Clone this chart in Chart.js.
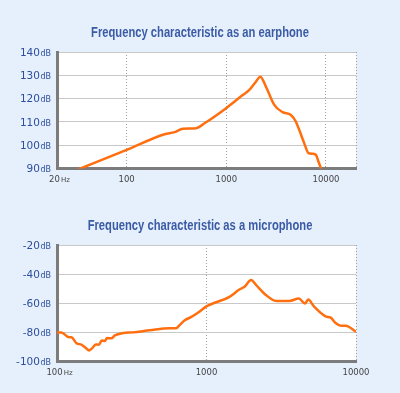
<!DOCTYPE html>
<html>
<head>
<meta charset="utf-8">
<title>Frequency characteristic</title>
<script src="https://cdn.jsdelivr.net/npm/chart.js@4.4.0/dist/chart.umd.min.js"></script>
<style>
  html, body { margin: 0; padding: 0; background: #e6f0fc; }
  #wrap { position: relative; width: 400px; height: 393px; overflow: hidden; }
  .box { position: absolute; left: 0; width: 400px; height: 200px; }
  #box1 { top: 0; }
  #box2 { top: 193px; }
</style>
</head>
<body>
<div id="wrap">
  <div class="box" id="box1"><canvas id="earphoneChart"></canvas></div>
  <div class="box" id="box2"><canvas id="micChart"></canvas></div>
</div>
<script>
// --- earphone response (Hz / dB) ---
const earTitle = 'Frequency characteristic as an earphone';
const earFreq = [32, 100, 240, 303, 366, 499, 604, 995, 1459, 1702, 1985, 2193, 2498, 3027, 3667, 4444, 4984, 5383, 6040, 6670, 7310, 7900, 8400, 8990];
const earLevel = [89.5, 98, 104.7, 105.6, 107.1, 107.3, 109.4, 115.9, 121.5, 123.7, 127.3, 129.4, 125.1, 117.3, 114.2, 113, 110.1, 106.6, 100.9, 96.6, 96.3, 95.9, 93, 89.5];
const earXTicks = [20, 100, 1000, 10000, 20000];
const earYTicks = [90, 100, 110, 120, 130, 140];

// --- microphone response (Hz / dB) ---
const micTitle = 'Frequency characteristic as a microphone';
const micFreq = [100, 107, 119, 125, 135, 146, 156, 164, 173, 182, 191, 199, 209, 216, 231, 244, 277, 323, 417, 566, 626, 661, 716, 792, 891, 1005, 1425, 1660, 1795, 1990, 2150, 2510, 2920, 3580, 4150, 4550, 4790, 5230, 6260, 6770, 7300, 7920, 8530, 10000];
const micLevel = [-80, -80, -83.2, -83.4, -87.4, -88.5, -90.8, -92.4, -90.6, -88.3, -88.5, -85.5, -86, -83.9, -84.1, -82.1, -80.5, -80, -78.6, -77.2, -77.2, -75, -71.7, -69.4, -66, -62, -55.6, -50.6, -48.7, -44.1, -47.6, -54.5, -58.4, -58.4, -56.8, -60.2, -57.5, -62.1, -69, -69.9, -73.6, -75.4, -75.4, -79.5];
const micXTicks = [100, 1000, 10000];
const micYTicks = [-100, -80, -60, -40, -20];

document.addEventListener('DOMContentLoaded', () => {
    createResponseChart('earphoneChart', earTitle, earFreq, earLevel, earXTicks, earYTicks);
    createResponseChart('micChart', micTitle, micFreq, micLevel, micXTicks, micYTicks);
});

/**
 * White plot area behind the grid.
 */
const plotBackground = {
    id: 'plotBackground',
    beforeDraw(chart) {
        const { ctx, chartArea: a } = chart;
        ctx.save();
        ctx.fillStyle = '#ffffff';
        ctx.fillRect(a.left, a.top, a.right - a.left, a.bottom - a.top);
        ctx.restore();
    }
};

/**
 * Title plus tick labels with the small "dB" / "Hz" units.
 */
function makeLabelPlugin(title, xTicks, yTicks) {
    return {
        id: 'unitLabels',
        afterDraw(chart) {
            const { ctx, chartArea, scales: { x, y } } = chart;
            ctx.save();

            // condensed title
            ctx.font = 'bold 14px "Liberation Sans", Arial, sans-serif';
            ctx.fillStyle = '#3b5ba5';
            ctx.textAlign = 'center';
            ctx.textBaseline = 'alphabetic';
            ctx.translate(chart.width / 2, 37);
            ctx.scale(0.8, 1);
            ctx.fillText(title, 0, 0);
            ctx.setTransform(1, 0, 0, 1, 0, 0);

            // y labels
            ctx.fillStyle = '#2d4f9e';
            ctx.textAlign = 'right';
            yTicks.forEach(v => {
                const py = y.getPixelForValue(v) + 3.7;
                ctx.font = '8px "DejaVu Sans"';
                const uw = ctx.measureText('dB').width;
                ctx.fillText('dB', chartArea.left - 6, py);
                ctx.font = '10.5px "DejaVu Sans"';
                ctx.fillText(String(v), chartArea.left - 6 - uw - 0.5, py);
            });

            // x labels (the 20000 edge of the earphone chart is unlabelled)
            ctx.fillStyle = '#444444';
            ctx.textAlign = 'left';
            const by = chartArea.bottom + 13.5;
            xTicks.forEach((v, i) => {
                if (v === 20000) return;
                const px = x.getPixelForValue(v);
                ctx.font = '8.5px "DejaVu Sans"';
                const num = String(v);
                const nw = ctx.measureText(num).width;
                if (i === 0) {
                    ctx.font = '7px "DejaVu Sans"';
                    const hw = ctx.measureText('Hz').width;
                    const left = px + 2.5 - (nw + 1 + hw) / 2;
                    ctx.fillText('Hz', left + nw + 1, by);
                    ctx.font = '8.5px "DejaVu Sans"';
                    ctx.fillText(num, left, by);
                } else {
                    ctx.fillText(num, px - nw / 2, by);
                }
            });
            ctx.restore();
        }
    };
}

/**
 * Builds one frequency response chart.
 */
function createResponseChart(canvasId, title, freq, level, xTicks, yTicks) {
    const ctx = document.getElementById(canvasId)?.getContext('2d');
    if (!ctx) return;

    new Chart(ctx, {
        type: 'line',
        data: {
            datasets: [{
                data: freq.map((f, i) => ({ x: f, y: level[i] })),
                borderColor: '#ff6f0f',
                borderWidth: 2.5,
                pointRadius: 0,
                cubicInterpolationMode: 'monotone',
                fill: false
            }]
        },
        options: {
            responsive: true,
            maintainAspectRatio: false,
            animation: false,
            layout: { padding: { top: 52, right: 44, left: 0, bottom: 0 } },
            plugins: {
                legend: { display: false },
                tooltip: { enabled: false }
            },
            scales: {
                x: {
                    type: 'logarithmic',
                    min: xTicks[0],
                    max: xTicks[xTicks.length - 1],
                    afterBuildTicks: s => { s.ticks = xTicks.map(v => ({ value: v })); },
                    afterFit: s => { s.height = 31.5; },
                    ticks: { display: false },
                    grid: { color: '#a0a0a0', lineWidth: 1, drawTicks: false },
                    border: { display: true, color: '#7c7c7c', width: 3, dash: [1, 2] }
                },
                y: {
                    min: yTicks[0],
                    max: yTicks[yTicks.length - 1],
                    afterBuildTicks: s => { s.ticks = yTicks.map(v => ({ value: v })); },
                    afterFit: s => { s.width = 57; },
                    ticks: { display: false },
                    grid: { color: '#c8c8c8', lineWidth: 1, drawTicks: false },
                    border: { display: true, color: '#7c7c7c', width: 3 }
                }
            }
        },
        plugins: [plotBackground, makeLabelPlugin(title, xTicks, yTicks)]
    });
}
</script>
</body>
</html>
